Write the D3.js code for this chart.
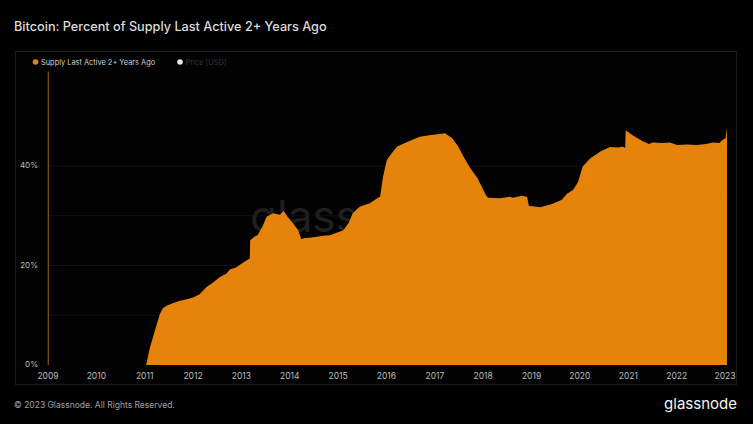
<!DOCTYPE html>
<html><head><meta charset="utf-8">
<script src="https://cdn.jsdelivr.net/npm/d3@7"></script>
<style>
html,body{margin:0;padding:0;background:#000;}
svg{display:block;font-family:Inter,"Noto Sans",sans-serif;}
</style></head>
<body>
<svg id="c" width="753" height="424"></svg>
<script>
const title = "Bitcoin: Percent of Supply Last Active 2+ Years Ago";
const seriesName = "Supply Last Active 2+ Years Ago";
const priceName = "Price [USD]";
const footer = "© 2023 Glassnode. All Rights Reserved.";
const yearTicks = [2009,2010,2011,2012,2013,2014,2015,2016,2017,2018,2019,2020,2021,2022,2023];
const yTicks = [0,20,40];
const gridTicks = [10,20,30,40];
const genesis = {date:"2009-01-03", value:59};
const dates = [
"2009-01-03","2011-01-12","2011-02-10","2011-03-20","2011-04-25","2011-05-18","2011-06-15","2011-08-01","2011-09-24","2011-11-15","2012-01-05","2012-02-20","2012-04-12","2012-06-01","2012-07-22","2012-09-10","2012-10-05","2012-11-20","2013-01-15","2013-03-05","2013-03-08","2013-04-10","2013-05-02","2013-06-08","2013-07-10","2013-08-28","2013-10-20","2013-11-15","2013-12-10","2014-01-25","2014-03-05","2014-03-30","2014-04-15","2014-06-28","2014-09-10","2014-10-30","2015-02-10","2015-03-20","2015-04-22","2015-06-12","2015-08-28","2015-10-30","2015-11-14","2015-12-06","2016-01-04","2016-02-20","2016-03-22","2016-06-14","2016-09-08","2016-11-20","2017-01-20","2017-03-18","2017-05-12","2017-06-26","2017-08-05","2017-09-24","2017-11-18","2018-01-20","2018-02-06","2018-05-08","2018-07-20","2018-08-15","2018-10-20","2018-11-28","2018-12-12","2019-03-08","2019-06-10","2019-08-18","2019-09-25","2019-11-10","2019-12-18","2020-01-22","2020-03-18","2020-06-04","2020-08-15","2020-10-20","2020-11-20","2020-12-08","2020-12-12","2021-02-02","2021-04-20","2021-06-05","2021-07-05","2021-09-20","2021-11-10","2022-01-05","2022-03-20","2022-06-02","2022-08-10","2022-10-01","2022-11-20","2022-12-10","2023-01-05","2023-01-16"
];
const values = [
0,0,3.5,7,10.2,11.4,11.9,12.4,12.9,13.2,13.6,14.2,15.7,16.6,17.7,18.4,19.2,19.6,20.6,21.4,25.1,25.8,26.1,27.8,29.8,30.5,30.2,31.0,30.0,28.5,27.1,25.3,25.5,25.7,26.0,26.1,27.1,28.5,30.5,31.8,32.5,33.6,33.8,37.8,41.2,42.9,43.9,44.9,45.9,46.2,46.4,46.6,45.6,43.9,41.9,39.6,37.6,34.2,33.6,33.5,33.8,33.6,34.0,33.8,32.0,31.7,32.4,33.2,34.4,35.2,36.8,39.9,41.5,42.9,43.8,43.7,43.9,43.6,47.2,46.2,45.0,44.4,44.7,44.6,44.7,44.2,44.3,44.2,44.4,44.7,44.6,45.2,45.6,47.6
];

const parse = d3.timeParse("%Y-%m-%d");
const data = dates.map((d,i)=>({date:parse(d), value:values[i]}));

const svg = d3.select("#c");
const W=753,H=424;
svg.append("rect").attr("width",W).attr("height",H).attr("fill","#000");

svg.append("text").attr("x",14).attr("y",31).attr("fill","#dcdcdc")
  .attr("font-size",12.7).attr("font-weight",500).text(title);

// panel
svg.append("rect").attr("x",15.5).attr("y",51.5).attr("width",721).attr("height",333)
  .attr("fill","#020202").attr("stroke","#1c1c1c").attr("stroke-width",1);

const x = d3.scaleTime().domain([new Date(2009,0,1), new Date(2023,0,1)]).range([48,725]);
const y = d3.scaleLinear().domain([0,60]).range([365,66.5]);

// grid
svg.append("g").selectAll("line").data(gridTicks).join("line")
  .attr("x1",48).attr("x2",727).attr("y1",d=>y(d)).attr("y2",d=>y(d))
  .attr("stroke","#111").attr("stroke-width",1);

// watermark
svg.append("text").attr("x",250).attr("y",232).attr("fill","#1f1f1f")
  .attr("font-size",44).attr("font-family","Inter,sans-serif").attr("font-weight",400)
  .text("glassnode");

// area
const area = d3.area().x(d=>x(d.date)).y0(y(0)).y1(d=>y(d.value));
svg.append("path").datum(data).attr("d",area).attr("fill","#e5830b");

// genesis line
svg.append("line").attr("x1",x(parse(genesis.date))).attr("x2",x(parse(genesis.date)))
  .attr("y1",y(genesis.value)).attr("y2",y(0)).attr("stroke","#a9620f").attr("stroke-width",1);

// y axis labels
svg.append("g").selectAll("text").data(yTicks).join("text")
  .attr("x",38).attr("y",d=>y(d)+2).attr("text-anchor","end")
  .attr("fill","#bdbdbd").attr("font-size",8).text(d=>d+"%");

// x axis labels
svg.append("g").selectAll("text").data(yearTicks).join("text")
  .attr("x",d=>x(new Date(d,0,1))).attr("y",379).attr("text-anchor","middle")
  .attr("fill","#bdbdbd").attr("font-size",8.5).text(d=>d);

// legend
svg.append("circle").attr("cx",35.5).attr("cy",62).attr("r",2.8).attr("fill","#e5830b");
svg.append("text").attr("x",41).attr("y",64.8).attr("fill","#cfcfcf").attr("font-size",7.4).text(seriesName);
svg.append("circle").attr("cx",180).attr("cy",62).attr("r",2.8).attr("fill","#e6e6e6");
svg.append("text").attr("x",185.5).attr("y",64.8).attr("fill","#333").attr("font-size",7.4).text(priceName);

// footer
svg.append("text").attr("x",14).attr("y",408).attr("fill","#a0a0a0").attr("font-size",8.5).text(footer);
svg.append("text").attr("x",737).attr("y",409).attr("text-anchor","end").attr("fill","#f2f2f2")
  .attr("font-size",15).attr("font-weight",400).text("glassnode");
</script>
</body></html>
